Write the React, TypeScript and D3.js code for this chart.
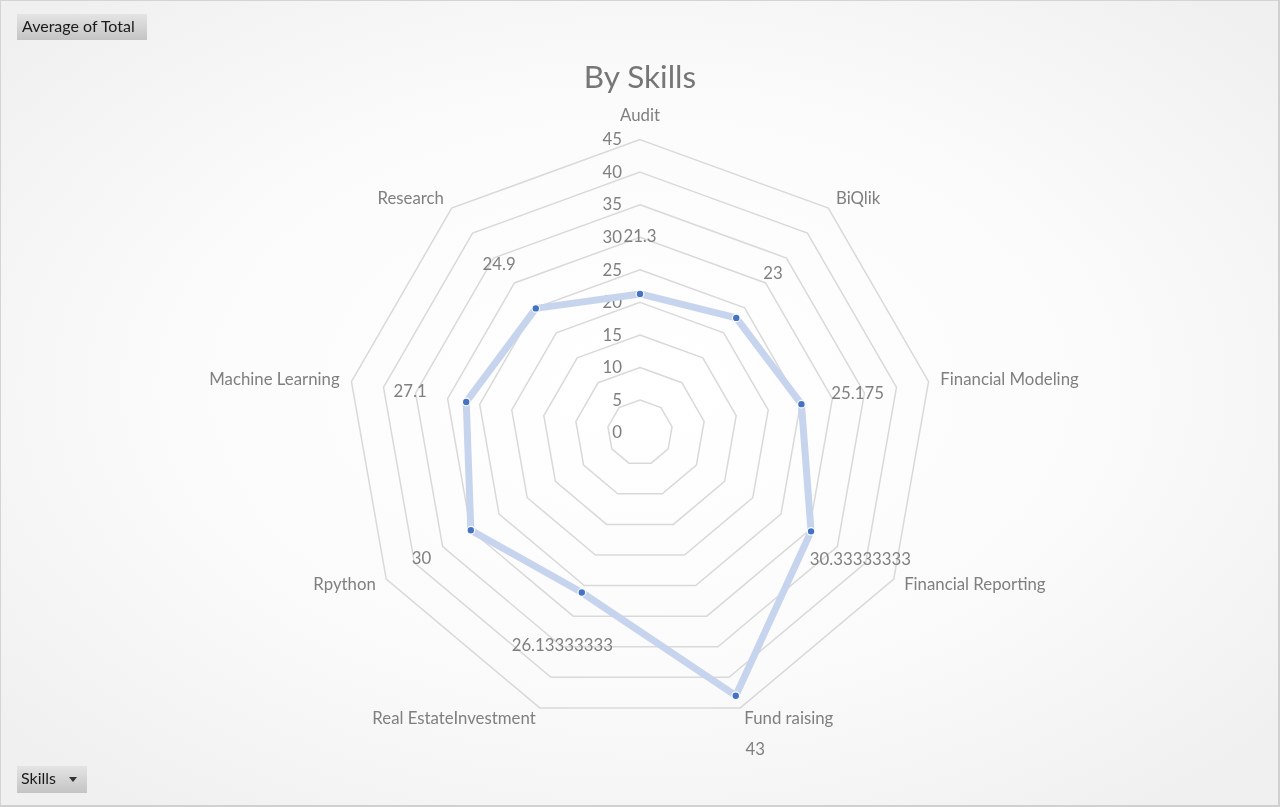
import React from "react";
import * as d3 from "d3";

const categories = [
  "Audit",
  "BiQlik",
  "Financial Modeling",
  "Financial Reporting",
  "Fund raising",
  "Real EstateInvestment",
  "Rpython",
  "Machine Learning",
  "Research",
];
const values = [21.3, 23, 25.175, 30.33333333, 43, 26.13333333, 30, 27.1, 24.9];
const valueLabels = ["21.3", "23", "25.175", "30.33333333", "43", "26.13333333", "30", "27.1", "24.9"];
const ticks = [0, 5, 10, 15, 20, 25, 30, 35, 40, 45];

const W = 1280;
const H = 807;
const cx = 640;
const cy = 432.6;
const R = 293;
const FONT = "Lato, 'Open Sans', sans-serif";
const FS = 16.8;

export default function App() {
  const n = categories.length;
  const r = d3.scaleLinear().domain([0, 45]).range([0, R]);
  const ang = (i: number) => (i * 2 * Math.PI) / n;
  const pt = (i: number, rad: number): [number, number] => [
    cx + rad * Math.sin(ang(i)),
    cy - rad * Math.cos(ang(i)),
  ];
  const ring = (v: number) =>
    d3.range(n).map((i) => pt(i, r(v)).join(",")).join(" ");
  const line = d3
    .line<number>()
    .x((d, i) => pt(i, r(d))[0])
    .y((d, i) => pt(i, r(d))[1])
    .curve(d3.curveLinearClosed);

  return (
    <svg
      width={W}
      height={H}
      style={{ position: "fixed", left: 0, top: 0 }}
      fontFamily={FONT}
    >
      <defs>
        <radialGradient id="bg" cx="50%" cy="48%" r="65%">
          <stop offset="0%" stopColor="#ffffff" />
          <stop offset="55%" stopColor="#fbfbfb" />
          <stop offset="100%" stopColor="#f0f0f0" />
        </radialGradient>
        <linearGradient id="btn" x1="0" y1="0" x2="0" y2="1">
          <stop offset="0%" stopColor="#e4e4e4" />
          <stop offset="100%" stopColor="#c4c4c4" />
        </linearGradient>
      </defs>
      <rect x={0} y={0} width={W} height={H} fill="url(#bg)" />
      <rect x={0.5} y={0.5} width={W - 2} height={H - 2} fill="none" stroke="#d4d4d4" strokeWidth={1} />
      <rect x={W - 2} y={0} width={2} height={H} fill="#d0d0d0" />
      <rect x={0} y={H - 2} width={W} height={2} fill="#d0d0d0" />

      {/* title */}
      <text x={640} y={80} textAnchor="middle" dominantBaseline="middle" fontSize={31.5} fill="#767676">
        By Skills
      </text>

      {/* grid rings */}
      {ticks.slice(1).map((t) => (
        <polygon key={t} points={ring(t)} fill="none" stroke="#d9d9d9" strokeWidth={1.5} />
      ))}

      {/* tick labels */}
      {ticks.map((t) => (
        <text key={t} x={622} y={cy - r(t) + 1.5} textAnchor="end" dominantBaseline="middle" fontSize={FS} fill="#7f7f7f">
          {t}
        </text>
      ))}

      {/* category labels */}
      {categories.map((c, i) => {
        const [x, y] = pt(i, R + 12);
        const s = Math.sin(ang(i));
        const anchor = Math.abs(s) < 0.01 ? "middle" : s > 0 ? "start" : "end";
        const dy = Math.abs(s) < 0.01 ? -11 : 1;
        return (
          <text key={c} x={x} y={y + dy} textAnchor={anchor} dominantBaseline="middle" fontSize={FS} fill="#7f7f7f">
            {c}
          </text>
        );
      })}

      {/* series */}
      <path d={line(values) || ""} fill="none" stroke="#c7d4ee" strokeWidth={7} strokeLinejoin="round" />
      {values.map((v, i) => {
        const [x, y] = pt(i, r(v));
        return <circle key={i} cx={x} cy={y} r={3.8} fill="#4472c4" stroke="#ffffff" strokeWidth={1.2} />;
      })}

      {/* data labels */}
      {values.map((v, i) => {
        const [x, y] = pt(i, r(v) + 57);
        return (
          <text key={i} x={x} y={y + 1} textAnchor="middle" dominantBaseline="middle" fontSize={FS} fill="#7f7f7f">
            {valueLabels[i]}
          </text>
        );
      })}

      {/* buttons */}
      <rect x={17} y={14} width={130} height={26} fill="url(#btn)" />
      <text x={22} y={28} dominantBaseline="middle" fontSize={16} fill="#1a1a1a">
        Average of Total
      </text>
      <rect x={17} y={766} width={70} height={27} fill="url(#btn)" />
      <text x={21} y={780} dominantBaseline="middle" fontSize={16} fill="#1a1a1a">
        Skills
      </text>
      <path d="M69,777 L77,777 L73,782 Z" fill="#333" />
    </svg>
  );
}
